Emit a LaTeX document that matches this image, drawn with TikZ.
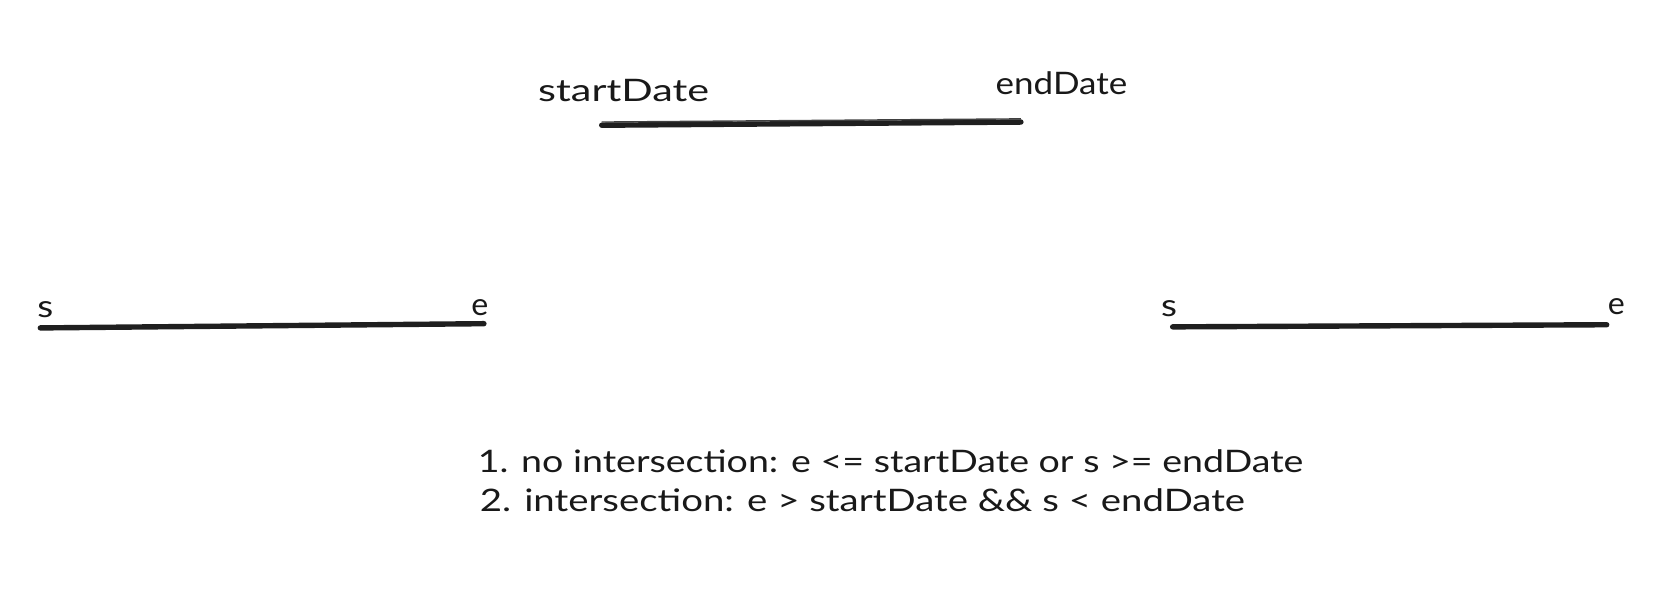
\documentclass[tikz,border=0pt]{standalone}
\usepackage{fontspec}
\setmainfont{Lato}
\usetikzlibrary{calc}
\newdimen\vu \vu=1.0612pt
\newcommand\fitw[2]{\resizebox{#1\vu}{\height}{#2}}
\begin{document}
\begin{tikzpicture}[x=1.0612pt,y=-1.0612pt,
  lbl/.style={inner sep=0pt,anchor=base west,font=\fontsize{31}{36}\selectfont,text=black!90},
  bar/.style={line width=5.4pt,line cap=round,draw=black!88}]
\useasboundingbox (0,0) rectangle (1568,562);
% top range
\node[lbl] (sd) at (507,96) {\fitw{161}{startDate}};
\node[lbl] (ed) at (938,89) {\fitw{124}{endDate}};
\coordinate (t1) at (567,118);
\coordinate (t2) at (962,115);
\draw[bar] (t1) -- (t2);
\draw[line width=1.4pt,draw=black!75] ($(t1)+(0,-3)$) -- ($(t2)+(0,-3)$);
% left range
\node[lbl] (ls) at (35,299) {\fitw{15}{s}};
\node[lbl] (le) at (444,297) {\fitw{16}{e}};
\coordinate (l1) at (38,309);
\coordinate (l2) at (456,305);
\draw[bar] (l1) -- (l2);
% right range
\node[lbl] (rs) at (1094,298) {\fitw{15}{s}};
\node[lbl] (re) at (1515,296) {\fitw{16}{e}};
\coordinate (r1) at (1105,308);
\coordinate (r2) at (1514,306);
\draw[bar] (r1) -- (r2);
% conditions
\node[lbl] (c1) at (450,445) {\fitw{778}{1. no intersection: e <= startDate or s >= endDate}};
\node[lbl] (c2) at (452,482) {\fitw{721}{2. intersection: e > startDate \&\& s < endDate}};
\end{tikzpicture}
\end{document}
